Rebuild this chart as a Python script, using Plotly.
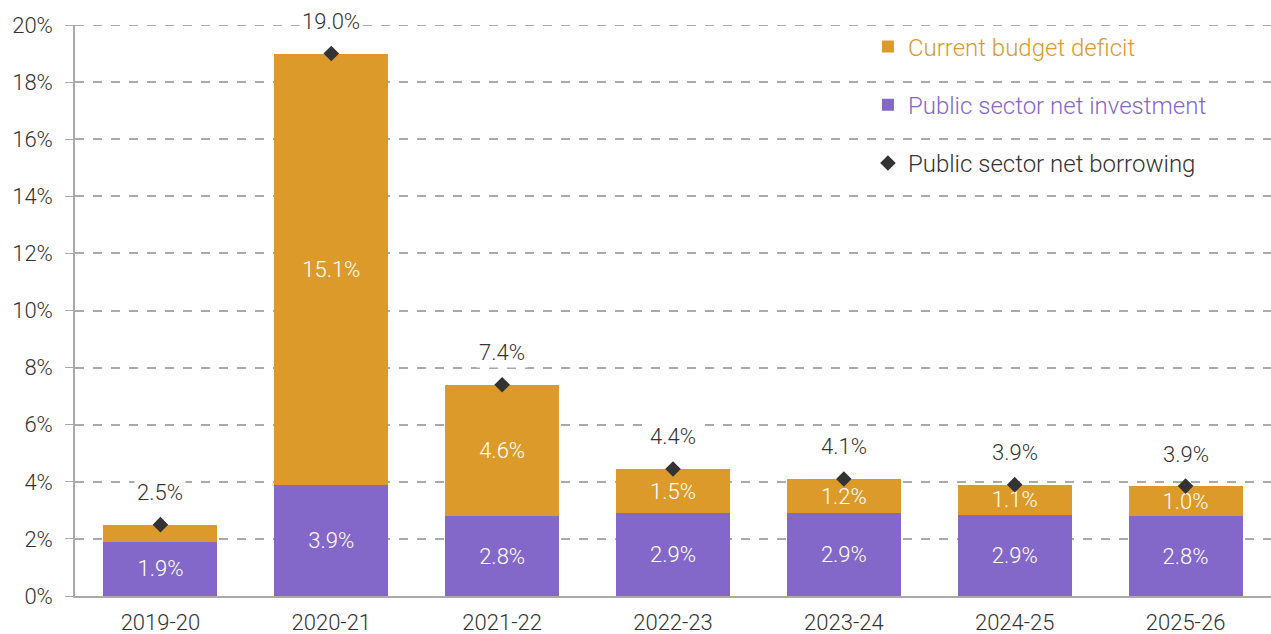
import plotly.graph_objects as go

categories = ["2019-20", "2020-21", "2021-22", "2022-23", "2023-24", "2024-25", "2025-26"]
investment = [1.9, 3.9, 2.8, 2.9, 2.9, 2.85, 2.8]
deficit = [0.6, 15.1, 4.6, 1.55, 1.2, 1.05, 1.05]
borrowing = [2.5, 19.0, 7.4, 4.45, 4.1, 3.9, 3.85]
investment_labels = ["1.9%", "3.9%", "2.8%", "2.9%", "2.9%", "2.9%", "2.8%"]
deficit_labels = ["", "15.1%", "4.6%", "1.5%", "1.2%", "1.1%", "1.0%"]
borrowing_labels = ["2.5%", "19.0%", "7.4%", "4.4%", "4.1%", "3.9%", "3.9%"]
y_ticks = [0, 2, 4, 6, 8, 10, 12, 14, 16, 18, 20]

ORANGE = "#DC9A2B"
PURPLE = "#8468C9"
DARK = "#333333"
GRID = "#aaaaaa"
FONT = "Roboto"
W = 300

fig = go.Figure()
fig.add_trace(go.Bar(
    x=categories, y=investment, name=f"<span style='color:{PURPLE}'>Public sector net investment</span>",
    marker=dict(color=PURPLE, line=dict(width=0)),
    text=investment_labels, textposition="inside", insidetextanchor="middle", constraintext="none",
    textfont=dict(color="white", size=22, family=FONT, weight=W),
    legendrank=2, legendgroup="b", hoverinfo="skip",
))
fig.add_trace(go.Bar(
    x=categories, y=deficit, name=f"<span style='color:{ORANGE}'>Current budget deficit</span>",
    marker=dict(color=ORANGE, line=dict(width=0)),
    text=deficit_labels, textposition="inside", insidetextanchor="middle", constraintext="none",
    textfont=dict(color="white", size=22, family=FONT, weight=W),
    legendrank=1, legendgroup="a", hoverinfo="skip",
))
fig.add_trace(go.Scatter(
    x=categories, y=borrowing, mode="markers", name="Public sector net borrowing",
    marker=dict(symbol="diamond", color=DARK, size=12),
    legendrank=3, legendgroup="c", cliponaxis=False, hoverinfo="skip",
))
for c, v, t in zip(categories, borrowing, borrowing_labels):
    fig.add_annotation(x=c, y=v, text=t, showarrow=False, yshift=32,
                       bgcolor="white", borderpad=2,
                       font=dict(size=22, color=DARK, family=FONT, weight=W))

# top gridline (plotly omits the gridline at the range edge)
fig.add_shape(type="line", xref="paper", yref="y", x0=0, x1=1, y0=y_ticks[-1], y1=y_ticks[-1],
              line=dict(color=GRID, width=2, dash="dash"), layer="below")

fig.update_layout(
    width=1271, height=634,
    margin=dict(l=75, r=0, t=25, b=38),
    barmode="stack", bargap=0.333,
    plot_bgcolor="white", paper_bgcolor="white",
    font=dict(family=FONT, size=22, color=DARK, weight=W),
    showlegend=True,
    legend=dict(x=0.663, y=1.001, xanchor="left", yanchor="top", bgcolor="rgba(0,0,0,0)",
                font=dict(size=24, color=DARK, family=FONT, weight=W), tracegroupgap=24,
                traceorder="grouped", itemsizing="constant", itemwidth=30),
    xaxis=dict(showline=True, linecolor=GRID, linewidth=1.5, ticks="",
               ticklabelstandoff=6,
               tickfont=dict(size=22, color=DARK, family=FONT, weight=W)),
    yaxis=dict(range=[0, 20], tickvals=y_ticks, ticktext=[f"{t}%" for t in y_ticks],
               showgrid=True, gridcolor=GRID, gridwidth=2, griddash="dash",
               showline=True, linecolor=GRID, linewidth=1.5,
               ticks="outside", ticklen=8, tickcolor=GRID, ticklabelstandoff=8,
               tickfont=dict(size=22, color=DARK, family=FONT, weight=W), zeroline=False),
)
fig.write_html("out.html", config={"displayModeBar": False},
               post_script="document.body.style.margin='0px';")
